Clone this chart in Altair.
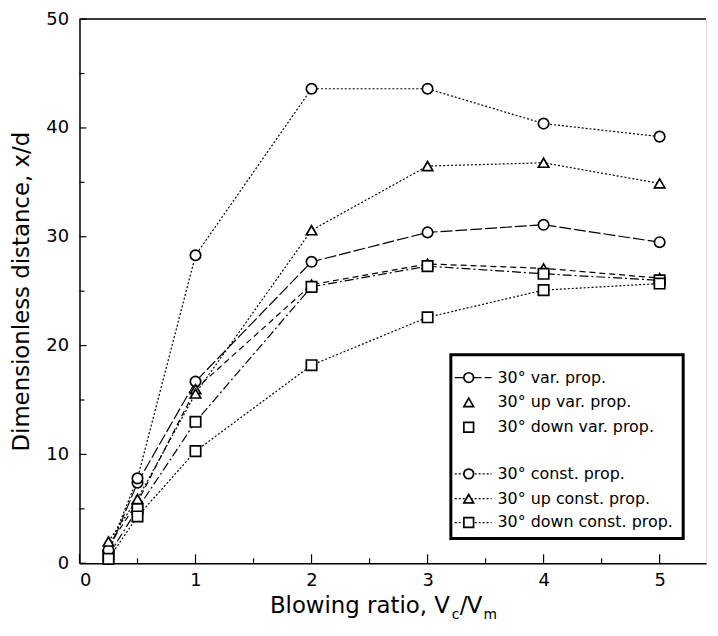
import altair as alt
import pandas as pd

# ---- data ----
x_vals = [0.25, 0.5, 1, 2, 3, 4, 5]
var_prop = [1.0, 7.4, 16.7, 27.7, 30.4, 31.1, 29.5]
up_var_prop = [1.6, 5.6, 16.0, 25.6, 27.5, 27.1, 26.2]
down_var_prop = [0.7, 5.0, 13.0, 25.4, 27.3, 26.6, 26.0]
const_prop = [1.2, 7.8, 28.3, 43.6, 43.6, 40.4, 39.2]
up_const_prop = [2.0, 5.9, 15.6, 30.6, 36.5, 36.8, 34.9]
down_const_prop = [0.4, 4.3, 10.3, 18.2, 22.6, 25.1, 25.7]

series_names = ["30° var. prop.", "30° up var. prop.", "30° down var. prop.",
                "30° const. prop.", "30° up const. prop.", "30° down const. prop."]
series_values = [var_prop, up_var_prop, down_var_prop,
                 const_prop, up_const_prop, down_const_prop]
series_shapes = ["circle", "triangle-up", "square", "circle", "triangle-up", "square"]
series_dashes = [[12, 3], [6, 4], [9, 3, 2, 3], [2, 2], [2, 2], [2, 2]]

x_ticks_major = [0, 1, 2, 3, 4, 5]
x_ticks_minor = [0.5, 1.5, 2.5, 3.5, 4.5]
y_ticks_major = [0, 10, 20, 30, 40, 50]
y_ticks_minor = [5, 15, 25, 35, 45]

# legend layout (pixels in plot area)
legend_row_y = [361, 386, 411, 458, 483, 507]
legend_has_line = [True, False, False, True, True, True]

W, H = 631, 548
FONT = "DejaVu Sans"

rows = []
for name, vals in zip(series_names, series_values):
    for xv, yv in zip(x_vals, vals):
        rows.append({"series": name, "x": xv, "y": yv})
df = pd.DataFrame(rows)

xscale = alt.Scale(domain=[0, 5.4], nice=False, zero=False)
yscale = alt.Scale(domain=[0, 50], nice=False)
dash_scale = alt.Scale(domain=series_names, range=series_dashes)
shape_scale = alt.Scale(domain=series_names, range=series_shapes)

xaxis = alt.Axis(values=x_ticks_major, ticks=False, grid=False, domain=True,
                 domainColor="black", domainWidth=1.5, labelFont=FONT, labelFontSize=18,
                 labelColor="black", labelPadding=8, title=None, format="d")
yaxis = alt.Axis(values=y_ticks_major, ticks=False, grid=False, domain=True,
                 domainColor="black", domainWidth=1.5, labelFont=FONT, labelFontSize=18,
                 labelColor="black", labelPadding=11,
                 title="Dimensionless distance, x/d", titleFont=FONT, titleFontSize=23,
                 titleFontWeight="normal", titleColor="black", titlePadding=12, format="d")

base = alt.Chart(df)
lines = base.mark_line(color="black", strokeWidth=1.2).encode(
    x=alt.X("x:Q", scale=xscale, axis=xaxis),
    y=alt.Y("y:Q", scale=yscale, axis=yaxis),
    strokeDash=alt.StrokeDash("series:N", scale=dash_scale, legend=None),
    detail="series:N",
)
points = base.mark_point(filled=True, fill="white", stroke="black", strokeWidth=1.7,
                         size=110, opacity=1).encode(
    x="x:Q", y="y:Q",
    shape=alt.Shape("series:N", scale=shape_scale, legend=None),
)

# inward ticks
yticks_major = alt.Chart(pd.DataFrame({"y": y_ticks_major})).mark_rule(color="black", strokeWidth=1.2).encode(
    y="y:Q", x=alt.value(0), x2=alt.value(7))
yticks_minor = alt.Chart(pd.DataFrame({"y": y_ticks_minor})).mark_rule(color="black", strokeWidth=1.2).encode(
    y="y:Q", x=alt.value(0), x2=alt.value(5))
xticks_major = alt.Chart(pd.DataFrame({"x": x_ticks_major})).mark_rule(color="black", strokeWidth=1.2).encode(
    x="x:Q", y=alt.value(H), y2=alt.value(H - 9))
xticks_minor = alt.Chart(pd.DataFrame({"x": x_ticks_minor})).mark_rule(color="black", strokeWidth=1.2).encode(
    x="x:Q", y=alt.value(H), y2=alt.value(H - 5))

one = pd.DataFrame({"a": [0]})
top_border = alt.Chart(one).mark_rule(color="black", strokeWidth=1.5).encode(
    x=alt.value(0), x2=alt.value(W), y=alt.value(0))

# legend
legend_box = alt.Chart(one).mark_rect(fill="white", stroke="black", strokeWidth=3).encode(
    x=alt.value(374), x2=alt.value(608), y=alt.value(338), y2=alt.value(523))

leg_df = pd.DataFrame({"series": series_names, "ly": legend_row_y, "has_line": legend_has_line,
                       "lx": [392] * 6, "lx1": [378] * 6, "lx2": [415] * 6, "tx": [421] * 6})
leg_lines = alt.Chart(leg_df[leg_df["has_line"]]).mark_rule(color="black", strokeWidth=1.2).encode(
    x=alt.X("lx1:Q", scale=None), x2="lx2:Q",
    y=alt.Y("ly:Q", scale=None),
    strokeDash=alt.StrokeDash("series:N", scale=dash_scale, legend=None),
)
leg_pts = alt.Chart(leg_df).mark_point(filled=True, fill="white", stroke="black", strokeWidth=1.7,
                                       size=95, opacity=1).encode(
    x=alt.X("lx:Q", scale=None), y=alt.Y("ly:Q", scale=None),
    shape=alt.Shape("series:N", scale=shape_scale, legend=None),
)
leg_text = alt.Chart(leg_df).mark_text(align="left", baseline="middle", font=FONT,
                                        fontSize=16, color="black").encode(
    x=alt.X("tx:Q", scale=None), y=alt.Y("ly:Q", scale=None), text="series:N")

# x-axis title with subscripts
def txt(s, x, y, size, align="left"):
    return alt.Chart(one).mark_text(text=s, align=align, baseline="alphabetic", font=FONT,
                                    fontSize=size, color="black").encode(
        x=alt.value(x), y=alt.value(y))

xt1 = txt("Blowing ratio, V", 373, 598, 23, align="right")
xt2 = txt("c", 375, 604, 14)
xt3 = txt("/", 383, 598, 23)
xt4 = txt("V", 390, 598, 23)
xt5 = txt("m", 407, 604, 14)

chart = alt.layer(
    lines, points, yticks_major, yticks_minor, xticks_major, xticks_minor, top_border,
    legend_box, leg_lines, leg_pts, leg_text, xt1, xt2, xt3, xt4, xt5,
).properties(
    width=W, height=H,
    autosize=alt.AutoSizeParams(type="none"),
    padding={"left": 72, "top": 9, "right": 4, "bottom": 60},
).configure_view(stroke=None).configure(font=FONT, background="white")

chart.save("out.html", embed_options={"renderer": "svg", "actions": False})
